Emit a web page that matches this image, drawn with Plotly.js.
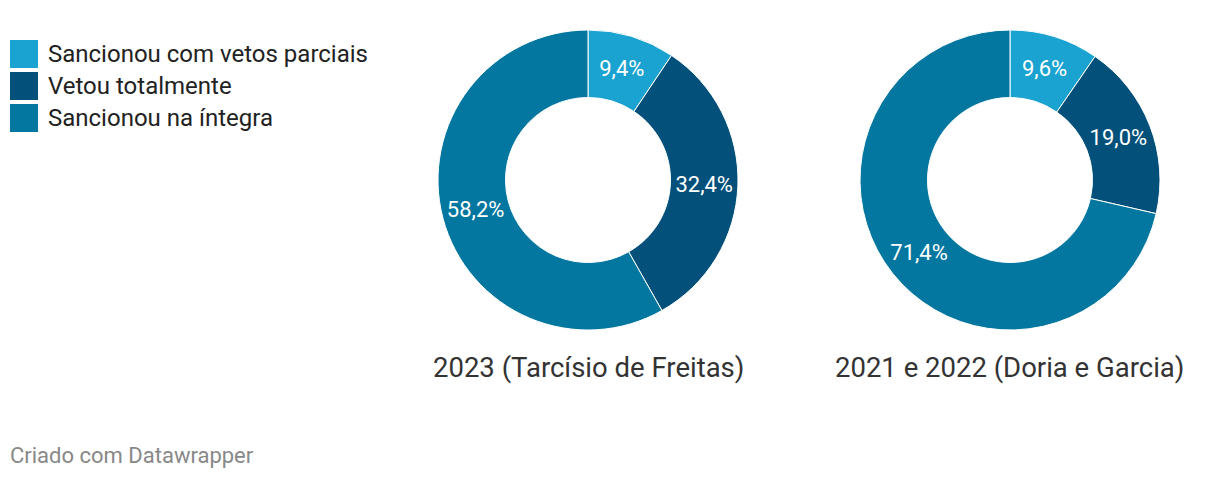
<!DOCTYPE html>
<html>
<head>
<meta charset="utf-8">
<script src="https://cdn.plot.ly/plotly-3.0.1.min.js"></script>
<style>
html,body{margin:0;padding:0;background:#fff;}
#chart{width:1220px;height:478px;}
</style>
</head>
<body>
<div id="chart"></div>
<script>
const categories = ["Sancionou com vetos parciais", "Vetou totalmente", "Sancionou na íntegra"];
const colors = ["#1aa3d0", "#03507a", "#03779f"];
const titles = ["2023 (Tarcísio de Freitas)", "2021 e 2022 (Doria e Garcia)"];
const values2023 = [9.4, 32.4, 58.2];
const values2122 = [9.6, 19.0, 71.4];
const footer = "Criado com Datawrapper";

const W = 1220, H = 478;
const domains = [
  {x: [438 / W, 738 / W], y: [1 - 330 / H, 1 - 30 / H]},
  {x: [860 / W, 1160 / W], y: [1 - 330 / H, 1 - 30 / H]}
];
const series = [values2023, values2122];

const traces = series.map((vals, i) => ({
  type: "pie",
  labels: categories,
  values: vals,
  hole: 0.55,
  sort: false,
  direction: "clockwise",
  rotation: 0,
  domain: domains[i],
  marker: {colors: colors, line: {color: "#ffffff", width: 1}},
  textinfo: "text",
  texttemplate: "%{value:.1f}%",
  textposition: "inside",
  insidetextorientation: "horizontal",
  textfont: {family: "Roboto, sans-serif", size: 22, color: "#ffffff"},
  showlegend: false,
  hoverinfo: "label+value"
}));

const annotations = [];
const shapes = [];
titles.forEach((t, i) => {
  annotations.push({
    xref: "paper", yref: "paper",
    x: (domains[i].x[0] + domains[i].x[1]) / 2, y: 1 - 367 / H,
    xanchor: "center", yanchor: "middle",
    text: t, showarrow: false,
    font: {family: "Roboto, sans-serif", size: 27.5, color: "#333333"}
  });
});
categories.forEach((c, i) => {
  const top = 40 + i * 32;
  shapes.push({
    type: "rect", xref: "paper", yref: "paper",
    x0: 10 / W, x1: 38 / W, y0: 1 - (top + 28) / H, y1: 1 - top / H,
    fillcolor: colors[i], line: {width: 0}
  });
  annotations.push({
    xref: "paper", yref: "paper",
    x: 46 / W, y: 1 - (top + 14) / H,
    xanchor: "left", yanchor: "middle",
    text: c, showarrow: false,
    font: {family: "Roboto, sans-serif", size: 24, color: "#222222"}
  });
});
annotations.push({
  xref: "paper", yref: "paper",
  x: 8 / W, y: 1 - 455 / H,
  xanchor: "left", yanchor: "middle",
  text: footer, showarrow: false,
  font: {family: "Roboto, sans-serif", size: 22, color: "#888888"}
});

const layout = {
  width: W, height: H,
  margin: {l: 0, r: 0, t: 0, b: 0},
  paper_bgcolor: "#ffffff",
  separators: ",.",
  showlegend: false,
  annotations: annotations,
  shapes: shapes
};

Plotly.newPlot("chart", traces, layout, {displayModeBar: false, staticPlot: true});
</script>
</body>
</html>
